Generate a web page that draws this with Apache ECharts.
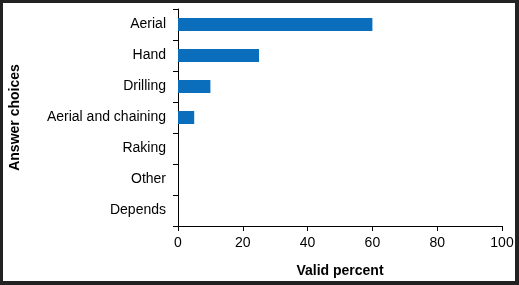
<!DOCTYPE html>
<html>
<head>
<meta charset="utf-8">
<script src="https://cdn.jsdelivr.net/npm/echarts@6/dist/echarts.min.js"></script>
<style>
html,body{margin:0;padding:0;}
#wrap{position:relative;width:519px;height:285px;background:#222;}
#chart{position:absolute;left:3px;top:3px;width:512px;height:278px;background:#fff;}
</style>
</head>
<body>
<div id="wrap"><div id="chart"></div></div>
<script>
const categories = ["Aerial", "Hand", "Drilling", "Aerial and chaining", "Raking", "Other", "Depends"];
const values = [60, 25, 10, 5, 0, 0, 0];
const xTicks = [0, 20, 40, 60, 80, 100];

const chart = echarts.init(document.getElementById('chart'), null, {renderer: 'canvas'});
const font = '"Liberation Sans", Arial, sans-serif';
chart.setOption({
  animation: false,
  grid: {left: 175, top: 6, right: 13, bottom: 55, containLabel: false, outerBoundsMode: 'none'},
  xAxis: {
    type: 'value', min: xTicks[0], max: xTicks[xTicks.length - 1], interval: 20,
    name: 'Valid percent', nameLocation: 'middle', nameGap: 38,
    nameTextStyle: {fontFamily: font, fontSize: 14, fontWeight: 'bold', color: '#000'},
    axisLine: {show: true, lineStyle: {color: '#000', width: 1}},
    axisTick: {show: true, length: 5, inside: false, lineStyle: {color: '#000'}},
    axisLabel: {fontFamily: font, fontSize: 14, color: '#000', margin: 10},
    splitLine: {show: false}
  },
  yAxis: {
    type: 'category', data: categories, inverse: true,
    name: 'Answer choices', nameLocation: 'middle', nameGap: 156, nameRotate: 90,
    nameTextStyle: {fontFamily: font, fontSize: 14, fontWeight: 'bold', color: '#000'},
    axisLine: {show: true, lineStyle: {color: '#000', width: 1}},
    axisTick: {show: true, length: 5, alignWithLabel: false, lineStyle: {color: '#000'}},
    axisLabel: {fontFamily: font, fontSize: 14, color: '#000', margin: 12},
    splitLine: {show: false}
  },
  series: [{
    type: 'bar', data: values, barWidth: 13,
    itemStyle: {color: '#0a6ebd'}
  }]
});
</script>
</body>
</html>
